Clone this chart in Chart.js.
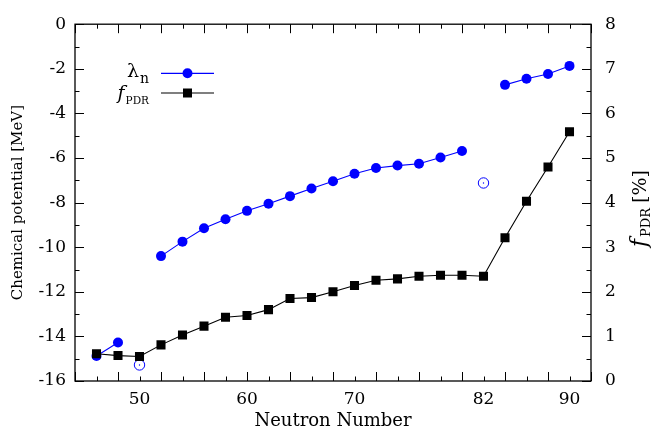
<!DOCTYPE html>
<html>
<head>
<meta charset="utf-8">
<script src="https://cdn.jsdelivr.net/npm/chart.js@4/dist/chart.umd.min.js"></script>
<style>
  html, body { margin: 0; padding: 0; background: #fff; }
  #wrap { width: 655px; height: 431px; position: relative; }
</style>
</head>
<body>
<div id="wrap"><canvas id="c" width="655" height="431"></canvas></div>
<script>
// ---- data ----
const neutronNumbers = [46,48,50,52,54,56,58,60,62,64,66,68,70,72,74,76,78,80,82,84,86,88,90];
const lambdaN = [-14.88,-14.27,null,-10.40,-9.75,-9.15,-8.75,-8.37,-8.05,-7.71,-7.37,-7.04,-6.71,-6.45,-6.34,-6.26,-5.98,-5.69,null,-2.72,-2.45,-2.23,-1.87];
const openN = [50, 82];
const openLambda = [-15.28, -7.12];
const fPDR = [0.61,0.57,0.55,0.81,1.03,1.23,1.43,1.47,1.60,1.85,1.87,2.00,2.14,2.26,2.29,2.35,2.37,2.37,2.35,3.21,4.03,4.80,5.59];
const xTickLabels = [50, 60, 70, 82, 90];

const SERIF = "'DejaVu Serif', serif";
const BLUE = '#0000ff';

const pts = (xs, ys) => xs.map((x, i) => ({x: x, y: ys[i]}));

const framePlugin = {
  id: 'frameTicks',
  beforeDatasetsDraw(chart) {
    const {ctx, chartArea: a, scales} = chart;
    ctx.save();
    ctx.strokeStyle = '#000';
    ctx.lineWidth = 1.3;
    ctx.strokeRect(a.left, a.top, a.right - a.left, a.bottom - a.top);
    ctx.lineWidth = 1;
    ctx.beginPath();
    for (let v = 44; v <= 92; v += 2) {
      const px = Math.round(scales.x.getPixelForValue(v)) + 0.5;
      const len = (v % 4 === 0) ? 9 : 4.5;
      ctx.moveTo(px, a.bottom); ctx.lineTo(px, a.bottom - len);
      ctx.moveTo(px, a.top); ctx.lineTo(px, a.top + len);
    }
    for (let v = -16; v <= 0; v += 1) {
      const py = Math.round(scales.y.getPixelForValue(v)) + 0.5;
      const len = (v % 2 === 0) ? 9 : 4.5;
      ctx.moveTo(a.left, py); ctx.lineTo(a.left + len, py);
    }
    for (let v = 0; v <= 8; v += 0.5) {
      const py = Math.round(scales.y2.getPixelForValue(v)) + 0.5;
      const len = Number.isInteger(v) ? 9 : 4.5;
      ctx.moveTo(a.right, py); ctx.lineTo(a.right - len, py);
    }
    ctx.stroke();
    ctx.restore();
  },
  afterDraw(chart) {
    const {ctx, chartArea: a} = chart;
    ctx.save();
    ctx.fillStyle = '#000';
    // x title
    ctx.font = "18px " + SERIF;
    ctx.textAlign = 'center';
    ctx.textBaseline = 'middle';
    ctx.fillText('Neutron Number', (a.left + a.right) / 2, 421);
    // left title
    ctx.save();
    ctx.translate(18, (a.top + a.bottom) / 2);
    ctx.rotate(-Math.PI / 2);
    ctx.font = "15px " + SERIF;
    ctx.fillText('Chemical potential [MeV]', 0, 0);
    ctx.restore();
    // right title
    ctx.save();
    ctx.textAlign = 'left';
    ctx.textBaseline = 'alphabetic';
    const fFont = "italic 22px " + SERIF, sFont = "13px " + SERIF, pFont = "19px " + SERIF;
    ctx.font = fFont; const fw = ctx.measureText('f').width + 2;
    ctx.font = sFont; const sw = ctx.measureText('PDR').width + 5;
    ctx.font = pFont; const pw = ctx.measureText('[%]').width;
    const total = fw + sw + pw;
    ctx.translate(646, (a.top + a.bottom) / 2 + 6 + total / 2);
    ctx.rotate(-Math.PI / 2);
    ctx.font = fFont;
    ctx.fillText('f', 0, 0);
    ctx.font = sFont;
    ctx.fillText('PDR', fw, 4);
    ctx.font = pFont;
    ctx.fillText('[%]', fw + sw, 0);
    ctx.restore();

    // legend
    const lx1 = 161, lx2 = 214, lmx = 187.5;
    const rows = [
      {y: 73.3, main: 'λ', mainFont: "19px " + SERIF, sub: 'n', subFont: "14px " + SERIF, color: BLUE, style: 'circle', dy: 4, sdy: 10},
      {y: 93, main: 'f', mainFont: "italic 19px " + SERIF, sub: 'PDR', subFont: "10.5px " + SERIF, color: '#000', style: 'rect', dy: 6, sdy: 11}
    ];
    rows.forEach(r => {
      ctx.textAlign = 'left';
      ctx.textBaseline = 'alphabetic';
      ctx.font = r.subFont;
      const sw2 = ctx.measureText(r.sub).width;
      ctx.font = r.mainFont;
      const mw = ctx.measureText(r.main).width;
      const right = 149;
      ctx.fillStyle = '#000';
      ctx.fillText(r.main, right - sw2 - mw - 1, r.y + r.dy);
      ctx.font = r.subFont;
      ctx.fillText(r.sub, right - sw2, r.y + r.sdy);
      ctx.strokeStyle = r.color;
      ctx.lineWidth = 1.2;
      ctx.beginPath();
      ctx.moveTo(lx1, r.y); ctx.lineTo(lx2, r.y);
      ctx.stroke();
      ctx.fillStyle = r.color;
      if (r.style === 'circle') {
        ctx.beginPath(); ctx.arc(lmx, r.y, 5, 0, Math.PI * 2); ctx.fill();
      } else {
        ctx.fillRect(lmx - 4.5, r.y - 4.5, 9, 9);
      }
    });
    ctx.restore();
  }
};

new Chart(document.getElementById('c'), {
  type: 'line',
  data: {
    datasets: [
      {
        label: 'fPDR',
        data: pts(neutronNumbers, fPDR),
        yAxisID: 'y2',
        borderColor: '#000',
        backgroundColor: '#000',
        borderWidth: 1.1,
        pointStyle: 'rect',
        pointRadius: 6.4,
        pointBorderWidth: 0,
        tension: 0
      },
      {
        label: 'lambda_n',
        data: pts(neutronNumbers, lambdaN),
        yAxisID: 'y',
        borderColor: BLUE,
        backgroundColor: BLUE,
        borderWidth: 1.1,
        pointStyle: 'circle',
        pointRadius: 5,
        pointBorderWidth: 0,
        spanGaps: false,
        tension: 0
      },
      {
        label: 'open',
        data: pts(openN, openLambda),
        yAxisID: 'y',
        showLine: false,
        borderColor: BLUE,
        backgroundColor: 'rgba(255,255,255,0)',
        pointStyle: 'circle',
        pointRadius: 5.2,
        pointBorderWidth: 1,
      },
      {
        label: 'opendot',
        data: pts(openN, openLambda),
        yAxisID: 'y',
        showLine: false,
        borderColor: BLUE,
        backgroundColor: BLUE,
        pointStyle: 'circle',
        pointRadius: 0.7,
        pointBorderWidth: 0,
      }
    ]
  },
  options: {
    responsive: false,
    animation: false,
    events: [],
    layout: { padding: { top: 18, left: 0, right: 0, bottom: 0 } },
    plugins: { legend: { display: false }, tooltip: { enabled: false } },
    scales: {
      x: {
        type: 'linear',
        position: 'bottom',
        min: 44, max: 92,
        afterBuildTicks: s => { s.ticks = xTickLabels.map(v => ({value: v})); },
        afterFit: s => { s.height = 50; },
        grid: { display: false, drawTicks: false },
        border: { display: false },
        ticks: { color: '#000', font: { family: SERIF, size: 17 }, padding: 8, maxRotation: 0, autoSkip: false }
      },
      y: {
        type: 'linear',
        position: 'left',
        min: -16, max: 0,
        afterFit: s => { s.width = 75; },
        grid: { display: false, drawTicks: false },
        border: { display: false },
        ticks: { stepSize: 2, color: '#000', font: { family: SERIF, size: 17 }, padding: 9 }
      },
      y2: {
        type: 'linear',
        position: 'right',
        min: 0, max: 8,
        afterFit: s => { s.width = 64; },
        grid: { display: false, drawTicks: false },
        border: { display: false },
        ticks: { stepSize: 1, color: '#000', font: { family: SERIF, size: 17 }, padding: 14 }
      }
    }
  },
  plugins: [framePlugin]
});
</script>
</body>
</html>
